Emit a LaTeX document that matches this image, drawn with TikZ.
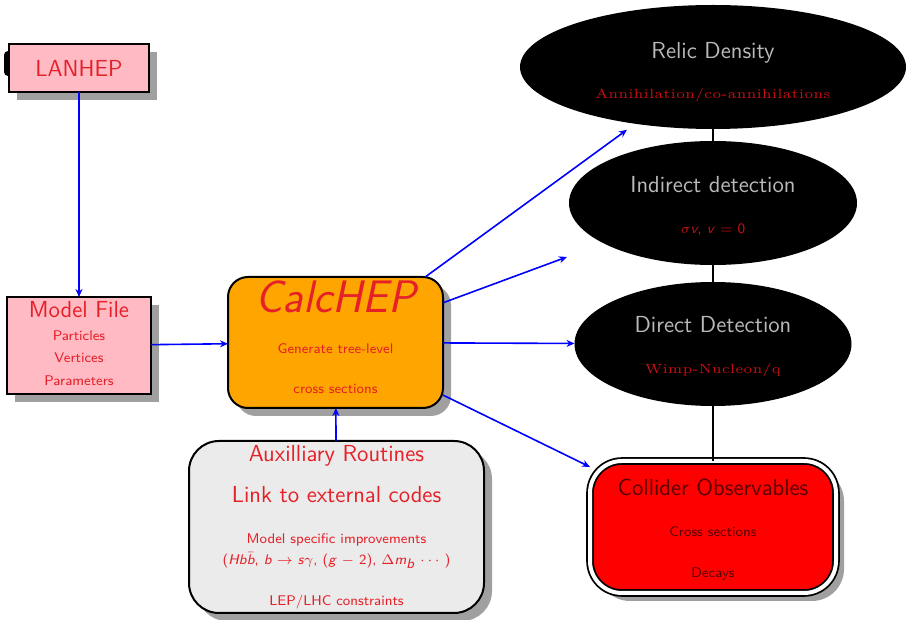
\documentclass[tikz,border=0pt]{standalone}
\usepackage{graphicx}
\usetikzlibrary{
    arrows.meta,
    calc,
    shadows,
    shapes.geometric,
    shapes.misc
}
\definecolor{boxred}{RGB}{230,32,40}
\definecolor{ellgray}{RGB}{185,185,185}
\definecolor{subred}{RGB}{200,15,20}
\definecolor{boxpink}{RGB}{255,186,196}
\definecolor{boxorange}{RGB}{255,165,0}
\tikzset{
    every picture/.style = {
        > = {Stealth[length = 4pt, width = 3.5pt]},
        thick
    },
    card/.style = {
        rectangle,
        draw,
        line width = 1pt,
        inner sep = 0pt,
        outer sep = 0pt,
        align = center,
        text = boxred,
        font = \sffamily\fontsize{7}{20.3}\selectfont,
        drop shadow = {shadow xshift = 4pt, shadow yshift = -4pt, opacity = 0.75}
    },
    blob/.style = {
        ellipse,
        fill = black,
        inner sep = 0pt,
        outer sep = 0pt,
        minimum height = 62pt,
        align = center,
        text = ellgray,
        font = \sffamily\fontsize{7}{20.3}\selectfont
    },
    flow/.style = {->, blue},
    link/.style = {line width = 1pt}
}
\newcommand{\boxhead}[1]{{\fontsize{11.6}{13}\selectfont #1}}
\newcommand{\serifnote}[1]{{\color{subred}\scalebox{1.33}{\fontsize{5}{6}\rmfamily\selectfont #1}}}
% struts: push the text block down (top) or up (bottom)
\newcommand{\padtop}[1]{\rule{0pt}{#1}}
\newcommand{\padbot}[1]{\rule[-#1]{0pt}{0pt}}

\begin{document}
\begin{tikzpicture}[x = 0.5pt, y = -0.5pt]
    % \draw[step = 50, lightgray, very thin] (0, 0) grid (907, 620);
    \useasboundingbox (0, 0) rectangle (907, 620);

    \fill[rounded corners = 2pt] (4, 51) rectangle (16, 76);
    \node[card, fill = boxpink, minimum width = 70pt, minimum height = 24pt] (lanhep) at (79, 68) {\boxhead{LANHEP}};

    \node[card, fill = boxpink, minimum width = 72pt, minimum height = 48.5pt, font = \sffamily\fontsize{7}{11.2}\selectfont] (model) at (79, 345.5) {\boxhead{Model File} \\ Particles \\ Vertices \\ Parameters\padbot{2pt}};

    \node[card, fill = boxorange, rounded corners = 10pt, minimum width = 107.5pt, minimum height = 65.5pt] (calchep) at (335.5, 342.5) {{\fontsize{22.8}{26}\selectfont\itshape CalcHEP} \\ Generate tree-level \\ cross sections\padbot{5.2pt}};

    \node[card, fill = black!8, rounded corners = 15pt, minimum width = 147.5pt, minimum height = 86pt, font = \sffamily\fontsize{7}{20.5}\selectfont] (aux) at (336.5, 527) {\boxhead{Auxilliary Routines} \\ \boxhead{Link to external codes} \\ Model specific improvements \\[-10.2pt] (\textit{Hb}$\bar{\textit{b}}$, \textit{b} $\rightarrow$ \textit{s}$\gamma$, (\textit{g} $-$ 2), $\Delta$\textit{m}$_{\textit{b}}$ $\cdots$ ) \\ LEP/LHC constraints};

    \node[blob, minimum width = 193pt] (relic) at (713, 67) {\padtop{13pt}\boxhead{Relic Density} \\ \serifnote{Annihilation/co-annihilations}};
    \node[blob, minimum width = 144pt] (indirect) at (713, 203) {\padtop{11pt}\boxhead{Indirect detection} \\ {\color{subred}\fontsize{7.2}{9}\selectfont $\sigma$\textit{v}, \textit{v} $=$ 0}};
    \node[blob, minimum width = 138.5pt] (direct) at (713, 344) {\padtop{10.5pt}\boxhead{Direct Detection} \\ \serifnote{Wimp-Nucleon/q}};

    \node[card, fill = red, text = red!35!black, double = white, double distance = 2pt, line width = 0.9pt, rounded corners = 16pt, minimum width = 123pt, minimum height = 66pt] (collider) at (713, 527) {\padtop{11pt}\boxhead{Collider Observables} \\ Cross sections \\ Decays};

    \draw[flow] (lanhep) -- (model);
    \draw[flow] (model) -- (calchep);
    \draw[flow] (aux) -- (calchep);
    \draw[flow] (calchep) -- ($(calchep)!0.772!(relic)$);
    \draw[flow] (calchep) -- ($(calchep)!0.613!(indirect)$);
    \draw[flow] (calchep) -- (direct);
    \draw[flow] (calchep) -- (collider);

    \draw[link] (relic) -- (indirect);
    \draw[link] (indirect) -- (direct);
    \draw[link] (direct) -- (collider);
\end{tikzpicture}
\end{document}
